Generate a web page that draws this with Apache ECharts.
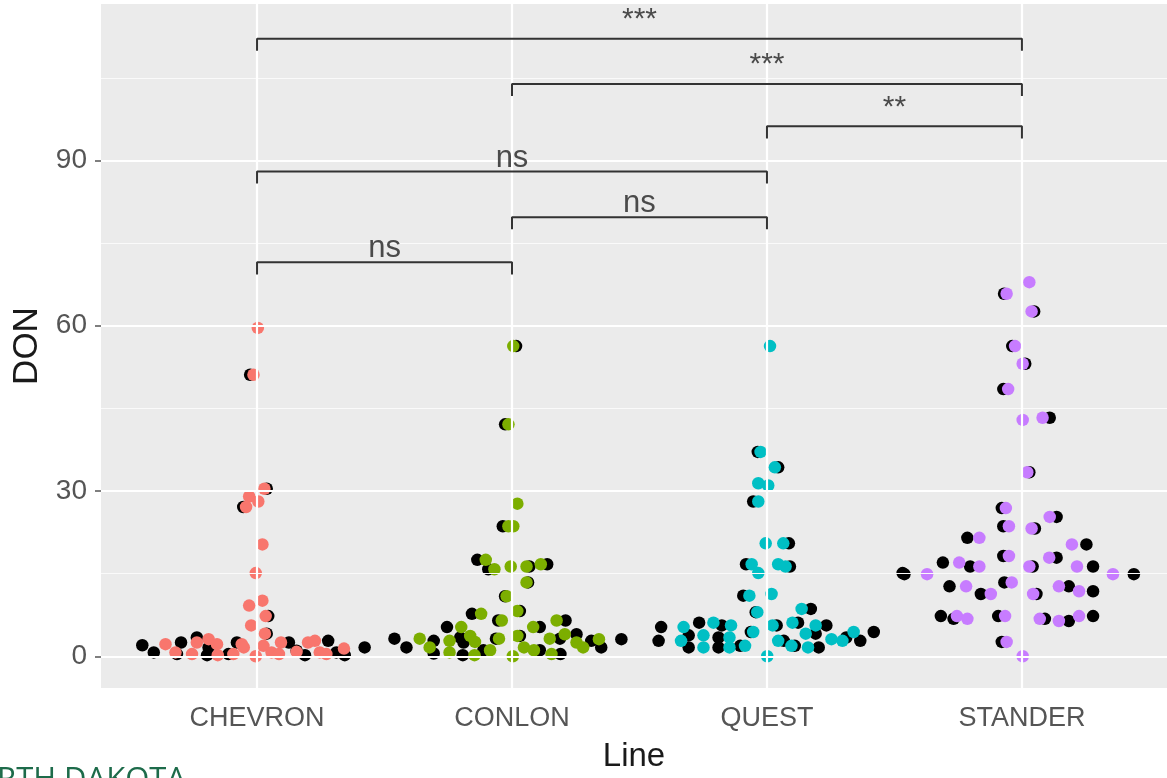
<!DOCTYPE html>
<html><head><meta charset="utf-8">
<script src="https://cdn.jsdelivr.net/npm/echarts@6/dist/echarts.min.js"></script>
<style>html,body{margin:0;padding:0;background:#fff;overflow:hidden}#c{width:1167px;height:778px}</style>
</head><body><div id="c"></div>
<script>
// ---- categories / ticks ----
const lines = ['CHEVRON', 'CONLON', 'QUEST', 'STANDER'];
const yTicks = [0, 30, 60, 90];
const yMinor = [15, 45, 75, 105];

// ---- coloured (beeswarm) layer: DON values and horizontal swarm offsets (category units) ----
const chevronDON = [59.6,51.1,30.4,29.0,28.1,27.1,20.3,15.1,10.1,9.2,7.3,5.6,4.1,2.2,0.7,0.4,2.5,3.1,2.2,0.2,0.4,2.2,1.6,0.0,1.9,0.7,2.5,0.4,0.8,2.5,2.8,0.7,0.4,1.4];
const chevronOff = [0.003,-0.014,0.029,-0.031,0.005,-0.043,0.021,-0.005,0.021,-0.031,0.034,-0.023,0.031,-0.359,-0.320,-0.255,-0.236,-0.190,-0.157,-0.154,-0.093,-0.060,-0.052,-0.005,0.025,0.057,0.094,0.086,0.155,0.200,0.227,0.246,0.272,0.341];
const conlonDON = [56.3,42.1,27.7,23.6,23.6,17.5,15.8,16.3,16.3,16.7,13.4,10.9,7.7,8.2,6.5,6.5,5.3,5.3,3.2,1.6,2.8,0.7,3.7,2.6,0.2,1.1,3.2,3.7,0.0,1.6,1.1,3.2,0.4,4.0,2.5,1.6,3.1];
const conlonOff = [0.005,-0.014,0.021,-0.014,0.005,-0.103,-0.069,-0.005,0.057,0.113,0.057,-0.021,-0.121,0.021,-0.040,0.175,-0.199,0.083,-0.362,-0.323,-0.245,-0.245,-0.164,-0.145,-0.147,-0.086,-0.051,0.021,0.003,0.047,0.086,0.148,0.155,0.207,0.253,0.279,0.341];
const questDON = [56.3,37.1,34.3,31.4,31.0,28.1,20.5,20.5,16.7,16.7,16.3,15.1,11.0,11.3,8.0,8.6,5.3,6.1,5.6,4.4,5.6,6.1,5.6,4.1,3.1,2.8,4.4,2.8,3.8,1.6,3.4,1.6,1.9,2.8,1.9,1.6,0.0];
const questOff = [0.012,-0.025,0.031,-0.034,0.005,-0.034,-0.005,0.064,-0.060,0.044,0.073,-0.034,-0.069,0.018,-0.038,0.136,-0.327,-0.210,-0.141,-0.054,0.022,0.100,0.191,0.152,0.253,0.296,0.340,-0.337,-0.249,-0.249,-0.147,-0.147,-0.086,0.044,0.096,0.161,0.001];
const standerDON = [67.9,65.8,62.6,56.3,53.1,48.5,43.3,42.9,33.4,26.9,25.3,23.6,23.2,21.5,20.3,18.2,17.9,17.0,16.3,16.3,16.3,14.9,14.9,13.4,12.7,12.7,11.8,11.3,11.3,7.3,6.8,7.3,6.8,6.4,7.3,2.6,0.0];
const standerOff = [0.029,-0.060,0.038,-0.027,0.003,-0.054,0.081,0.003,0.021,-0.063,0.109,-0.051,0.038,-0.167,0.196,-0.051,0.107,-0.246,-0.167,0.029,0.216,-0.372,0.357,-0.040,-0.219,0.145,0.224,-0.122,0.044,-0.255,-0.214,-0.066,0.070,0.145,0.224,-0.060,0.003];

// ---- black (jittered) layer ----
const chevronBlackDON = [51.1,30.4,27.1,7.3,4.1,2.0,0.7,0.4,2.5,3.4,0.2,1.6,0.4,2.5,2.5,1.0,0.2,2.8,0.7,0.2,1.6];
const chevronBlackOff = [-0.027,0.038,-0.054,0.044,0.038,-0.450,-0.405,-0.314,-0.298,-0.236,-0.196,-0.190,-0.112,-0.079,0.125,0.155,0.188,0.279,0.311,0.344,0.422];
const conlonBlackDON = [56.3,42.1,23.6,17.5,15.8,16.3,16.7,13.4,10.9,7.7,8.2,6.5,6.5,5.3,5.3,3.2,1.6,2.8,0.5,3.4,2.5,0.2,1.1,3.2,3.7,1.1,3.2,0.4,4.0,2.8,1.6,3.1];
const conlonBlackOff = [0.016,-0.027,-0.036,-0.136,-0.093,0.068,0.138,0.063,-0.027,-0.157,0.031,-0.054,0.210,-0.255,0.109,-0.461,-0.414,-0.307,-0.307,-0.203,-0.190,-0.193,-0.112,-0.063,0.031,0.109,0.188,0.190,0.253,0.311,0.350,0.429];
const questBlackDON = [37.1,34.3,28.1,20.5,16.7,16.3,15.1,11.0,8.0,8.6,5.3,6.1,5.6,4.4,5.6,6.1,5.6,4.1,3.4,2.8,4.4,2.8,3.8,1.6,3.4,1.6,1.9,2.8,1.9,1.6];
const questBlackOff = [-0.036,0.044,-0.054,0.086,-0.082,0.090,0.532,-0.093,-0.044,0.172,-0.415,-0.266,-0.177,-0.063,0.038,0.122,0.233,0.191,0.311,0.366,0.419,-0.425,-0.307,-0.307,-0.190,-0.190,-0.105,0.066,0.109,0.203];
const standerBlackDON = [65.8,62.6,56.3,53.1,48.5,43.3,33.4,26.9,25.3,23.6,23.2,21.5,20.3,18.2,17.9,17.0,16.3,16.3,16.3,14.9,14.9,13.4,12.7,12.7,11.8,11.3,11.3,7.3,6.8,7.3,6.8,6.4,7.3,2.6];
const standerBlackOff = [-0.070,0.048,-0.038,0.013,-0.073,0.109,0.029,-0.079,0.136,-0.073,0.051,-0.214,0.253,-0.073,0.136,-0.310,-0.203,0.042,0.279,-0.461,0.439,-0.069,-0.284,0.184,0.279,-0.161,0.057,-0.318,-0.268,-0.093,0.090,0.184,0.279,-0.079];

// ---- significance brackets ----
const compFrom = [1, 2, 1, 3, 2, 1];
const compTo   = [2, 3, 3, 4, 4, 4];
const bracketY = [71.5, 79.7, 88.0, 96.2, 103.9, 112.1];
const pLabels  = ['ns', 'ns', 'ns', '**', '***', '***'];
const tipLen = 2.2;

const groupColors = ['#F8766D', '#7CAE00', '#00BFC4', '#C77CFF'];
const coloured = [[chevronDON, chevronOff], [conlonDON, conlonOff], [questDON, questOff], [standerDON, standerOff]];
const blacks = [[chevronBlackDON, chevronBlackOff], [conlonBlackDON, conlonBlackOff], [questBlackDON, questBlackOff], [standerBlackDON, standerBlackOff]];

const FONT = '"Liberation Sans", Arial, sans-serif';
const PT = 12.5;
const series = [];

// panel grid lines drawn in data space
series.push({
  type: 'scatter', data: [[1, 0]], symbolSize: 0, silent: true, z: 1,
  markLine: {
    silent: true, symbol: ['none', 'none'], label: { show: false }, animation: false,
    lineStyle: { color: '#ffffff', type: 'solid', width: 2 },
    data: [
      ...yTicks.map(v => ({ yAxis: v, lineStyle: { width: 2.2, color: '#fff', type: 'solid' } })),
      ...yMinor.map(v => ({ yAxis: v, lineStyle: { width: 1.2, color: '#fafafa', type: 'solid' } })),
      ...lines.map((n, i) => ({ xAxis: i + 1, lineStyle: { width: 2.2, color: '#fff', type: 'solid' } }))
    ]
  }
});

blacks.forEach(([vals, offs], g) => {
  series.push({
    type: 'scatter', z: 3, symbolSize: PT,
    itemStyle: { color: '#000000', opacity: 1 },
    data: vals.map((v, i) => [g + 1 + offs[i], v])
  });
});
coloured.forEach(([vals, offs], g) => {
  series.push({
    type: 'scatter', z: 4, symbolSize: PT,
    itemStyle: { color: groupColors[g], opacity: 1 },
    data: vals.map((v, i) => [g + 1 + offs[i], v])
  });
});

bracketY.forEach((y, k) => {
  const a = compFrom[k], b = compTo[k];
  const isNs = pLabels[k] === 'ns';
  series.push({
    type: 'line', z: 5, symbol: 'none', silent: true,
    lineStyle: { color: '#333333', width: 2 },
    data: [[a, y - tipLen], [a, y], [b, y], [b, y - tipLen]]
  });
  series.push({
    type: 'scatter', z: 6, symbolSize: 0, silent: true,
    data: [[(a + b) / 2, y]],
    label: { show: true, position: 'top', distance: isNs ? -2 : 4, formatter: pLabels[k],
      fontSize: isNs ? 31 : 30, color: '#222222', fontFamily: FONT }
  });
});

const chart = echarts.init(document.getElementById('c'), null, { renderer: 'canvas', width: 1167, height: 778 });
chart.setOption({
  animation: false,
  backgroundColor: '#ffffff',
  grid: { left: 101, width: 1066, top: 4, height: 690, show: true, backgroundColor: '#EBEBEB', borderWidth: 0 },
  xAxis: {
    type: 'value', min: 0.388, max: 4.569,
    name: 'Line', nameLocation: 'middle', nameGap: 52,
    nameTextStyle: { fontSize: 33, color: '#1a1a1a', fontFamily: FONT },
    axisLine: { show: false },
    splitLine: { show: false },
    axisTick: { show: true, customValues: [1, 2, 3, 4], length: 6, lineStyle: { color: '#555', width: 1.5 } },
    axisLabel: { customValues: [1, 2, 3, 4], formatter: v => lines[Math.round(v) - 1], fontSize: 27, color: '#555555', fontFamily: FONT, margin: 17 }
  },
  yAxis: {
    type: 'value', min: -5.76, max: 118.4,
    name: 'DON', nameLocation: 'middle', nameGap: 51, nameRotate: 90,
    nameTextStyle: { fontSize: 35, color: '#1a1a1a', fontFamily: FONT },
    axisLine: { show: false },
    splitLine: { show: false },
    axisTick: { show: true, customValues: yTicks, length: 6, lineStyle: { color: '#555', width: 1.5 } },
    axisLabel: { customValues: yTicks, fontSize: 28, color: '#555555', fontFamily: FONT, margin: 14 }
  },
  graphic: [{
    type: 'text', left: -3, top: 765, z: 10,
    style: { text: 'RTH DAKOTA', fontSize: 31, fill: '#1d6b4a', fontFamily: '"Open Sans", sans-serif' }
  }],
  series
});
</script></body></html>
